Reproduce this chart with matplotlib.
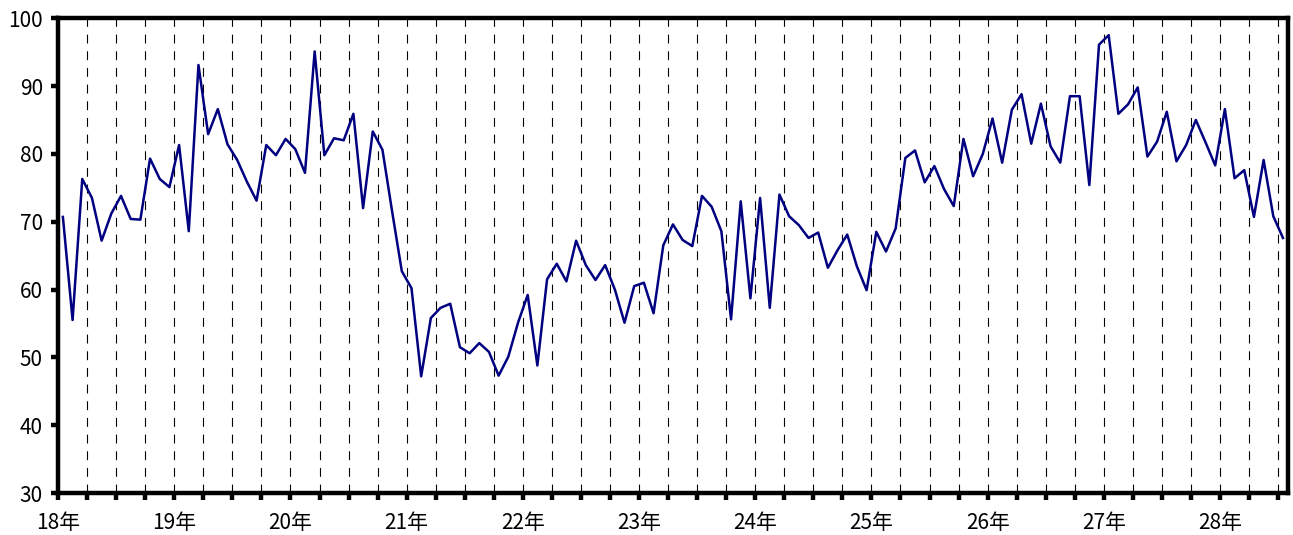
import numpy as np
import matplotlib
matplotlib.use("Agg")
import matplotlib.pyplot as plt

plt.rcParams['font.family'] = ['Noto Sans CJK JP', 'DejaVu Sans']

# monthly values, 18年1月 ..
values = [
    70.7, 55.5, 76.3, 73.5, 67.2, 71.2, 73.8, 70.4, 70.3, 79.3, 76.3, 75.1,
    81.3, 68.6, 93.1, 82.9, 86.6, 81.4, 79.1, 75.9, 73.1, 81.3, 79.8, 82.2,
    80.7, 77.2, 95.1, 79.8, 82.3, 82.0, 85.9, 72.0, 83.3, 80.6, 71.5, 62.7,
    60.2, 47.2, 55.8, 57.3, 57.9, 51.5, 50.6, 52.1, 50.8, 47.3, 50.1, 55.1,
    59.2, 48.8, 61.5, 63.8, 61.2, 67.2, 63.6, 61.4, 63.6, 60.0, 55.1, 60.5,
    61.0, 56.5, 66.5, 69.6, 67.3, 66.4, 73.8, 72.2, 68.6, 55.6, 73.0, 58.7,
    73.5, 57.3, 74.0, 70.8, 69.5, 67.6, 68.4, 63.2, 65.8, 68.1, 63.4, 59.9,
    68.5, 65.6, 69.0, 79.4, 80.5, 75.8, 78.2, 74.8, 72.3, 82.2, 76.7, 80.0,
    85.2, 78.7, 86.5, 88.8, 81.5, 87.4, 81.1, 78.7, 88.5, 88.5, 75.4, 96.1,
    97.5, 85.9, 87.3, 89.8, 79.6, 81.8, 86.2, 78.9, 81.3, 85.0, 81.7, 78.3,
    86.6, 76.4, 77.6, 70.7, 79.1, 70.8, 67.6,
]
years = ['18年', '19年', '20年', '21年', '22年', '23年', '24年', '25年', '26年', '27年', '28年']

n = len(values)
x = np.arange(n) + 0.5

fig = plt.figure(figsize=(12.93, 5.35), dpi=100)
ax = fig.add_axes([0.0449, 0.0785, 0.9511, 0.8875])

quarters = np.arange(0, n, 3)
for q in quarters[1:]:
    ax.axvline(q, color='black', lw=0.8, ls=(0, (8, 7)), zorder=1)

ax.plot(x, values, color='#000080', lw=1.8, zorder=3)

ax.set_xlim(0, n)
ax.set_ylim(30, 100)
ax.set_yticks(range(30, 101, 10))
ax.set_xticks(quarters)
ax.set_xticklabels([years[q // 12] if q % 12 == 0 else '' for q in quarters])

for s in ax.spines.values():
    s.set_linewidth(3.2)
ax.tick_params(direction='out', length=5, width=3.2, labelsize=15, pad=6)
ax.tick_params(axis='x', pad=9)

fig.savefig('out.png', dpi=100)
